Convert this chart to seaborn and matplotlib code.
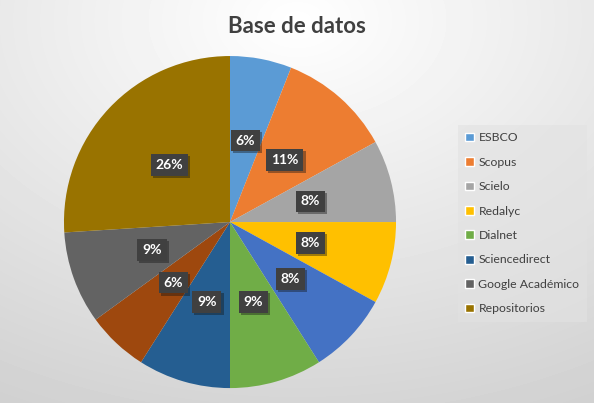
import matplotlib
matplotlib.use('Agg')
import matplotlib.pyplot as plt
import matplotlib.patheffects as pe
from matplotlib.patches import Patch
import numpy as np
import seaborn as sns

# slice names, values and colours (Excel default palette)
bases = ['ESBCO', 'Scopus', 'Scielo', 'Redalyc', 'Otros', 'Dialnet',
         'Sciencedirect', 'Otros 2', 'Google Académico', 'Repositorios']
valores = [6, 11, 8, 8, 8, 9, 9, 6, 9, 26]
colores = ['#5B9BD5', '#ED7D31', '#A5A5A5', '#FFC000', '#4472C4', '#70AD47',
           '#255E91', '#9E480E', '#636363', '#997300']
en_leyenda = ['ESBCO', 'Scopus', 'Scielo', 'Redalyc', 'Dialnet',
              'Sciencedirect', 'Google Académico', 'Repositorios']

sns.set_theme(style='white')
plt.rcParams['font.family'] = ['Lato', 'DejaVu Sans']

fig = plt.figure(figsize=(5.94, 4.03), dpi=100)

# radial grey background
bg = fig.add_axes([0, 0, 1, 1], zorder=-10)
yy, xx = np.mgrid[0:403, 0:594]
d = np.sqrt(((xx - 297) / 594) ** 2 + ((yy - 20) / 403) ** 2)
d = np.clip(d / 1.05, 0, 1)
shade = 1.0 - 0.18 * d
bg.imshow(shade, cmap='gray', vmin=0, vmax=1, aspect='auto', interpolation='bilinear')
bg.axis('off')

ax = fig.add_axes([0.1077, 0.037, 0.559, 0.824])
wedges, texts, autotexts = ax.pie(
    valores, colors=colores, startangle=90, counterclock=False,
    autopct='%1.0f%%', pctdistance=0.5,
    wedgeprops=dict(linewidth=0))
for t in autotexts:
    t.set_color('white')
    t.set_fontsize(10)
    t.set_fontweight('bold')
    t.set_bbox(dict(boxstyle='square,pad=0.35', facecolor='#404040', edgecolor='none',
                    path_effects=[pe.SimplePatchShadow(offset=(1.5, -1.5), alpha=0.4), pe.Normal()]))
ax.set_aspect('equal')
ax.set_xlim(-1, 1)
ax.set_ylim(-1, 1)

fig.text(0.5, 0.935, 'Base de datos', ha='center', va='center',
         fontsize=16, fontweight='bold', color='#404040')

handles = [Patch(facecolor=colores[bases.index(n)], label=n) for n in en_leyenda]
leg = fig.legend(handles=handles, loc='upper left', bbox_to_anchor=(0.771, 0.690),
                 frameon=True, fontsize=8.8, handlelength=0.72, handleheight=0.72,
                 handletextpad=0.35, labelspacing=1.1, borderpad=0.6,
                 borderaxespad=0, labelcolor='#404040')
leg.get_frame().set_facecolor('#e2e2e2')
leg.get_frame().set_edgecolor('none')
leg.get_frame().set_alpha(0.6)
leg.get_frame().set_boxstyle('square', pad=0)

fig.savefig('out.png', dpi=100)
